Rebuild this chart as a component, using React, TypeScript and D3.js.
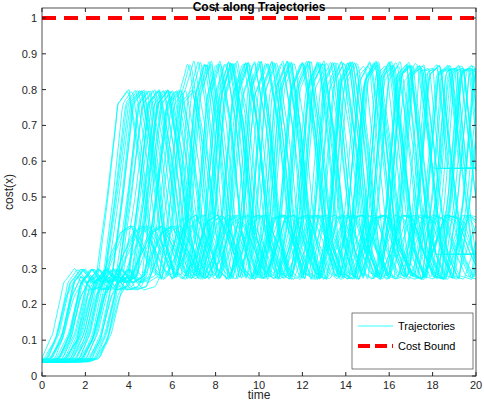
import React from "react";
import * as d3 from "d3";

const highProfile = [0.04,0.05,0.12,0.26,0.3,0.26,0.28,0.5,0.76,0.8,0.62,0.38,0.27,0.42,0.78,0.88,0.7,0.4,0.27,0.42,0.8,0.88,0.68,0.38,0.27,0.45,0.82,0.88,0.65,0.36,0.27,0.48,0.84,0.87,0.6,0.34,0.27,0.5,0.85,0.86,0.58];
const lowProfile = [0.04,0.05,0.1,0.22,0.28,0.24,0.25,0.33,0.4,0.42,0.36,0.3,0.27,0.33,0.43,0.45,0.38,0.3,0.27,0.34,0.44,0.45,0.37,0.29,0.27,0.35,0.44,0.45,0.36,0.29,0.27,0.36,0.45,0.44,0.35,0.28,0.27,0.37,0.45,0.43,0.34];
const highShifts = [-0.5,-0.35,-0.2,-0.1,0,0.1,0.15,0.25,0.3,0.4,0.5,0.55,0.65,0.7,0.8,0.9,0.95,1.05,1.1,1.2,1.3,1.35,1.45,1.5,1.6,1.7,1.75,1.85,1.9,2.0,2.1,2.2,-0.25,0.35,0.85,1.4];
const highRates = [1.0,0.92,1.08,0.96,1.04,0.88,1.12,0.95,1.02,0.9,1.1,0.98,0.86,1.06,0.94,1.14,1.0,0.9,1.05,0.97,1.11,0.89,1.03,0.93,1.07,0.99,0.87,1.09,0.95,1.01,0.91,1.13,0.96,1.04,0.92,1.06];
const lowShifts = [-0.4,-0.2,0,0.2,0.35,0.5,0.7,0.9,1.05,1.2,1.4,1.6,1.75,1.9,2.1,0.6,1.3,-0.1];
const lowRates = [1.0,0.9,1.1,0.95,1.05,0.88,1.12,0.97,1.03,0.92,1.08,0.94,1.06,0.9,1.1,1.0,0.96,1.04];
const xTicks = d3.range(0, 21, 2);
const yTicks = d3.range(0, 1.001, 0.1);
const costBound = 1;

export default function App() {
  const W = 484, H = 401;
  const m = { l: 42, r: 8, t: 8, b: 25 };
  const x = d3.scaleLinear().domain([0, 20]).range([m.l, W - m.r]);
  const y = d3.scaleLinear().domain([0, 1.028]).range([H - m.b, m.t]);
  const interp = (prof: number[], t: number) => {
    if (t <= 0) return prof[0];
    const i = t / 0.5;
    const i0 = Math.min(Math.floor(i), prof.length - 1);
    const i1 = Math.min(i0 + 1, prof.length - 1);
    const f = Math.min(i - i0, 1);
    return prof[i0] * (1 - f) + prof[i1] * f;
  };
  const line = d3.line<[number, number]>().x(d => x(d[0])).y(d => y(d[1])).curve(d3.curveMonotoneX);
  const fine = d3.range(0, 20.001, 0.1);
  const paths: string[] = [];
  highShifts.forEach((s, k) => paths.push(line(fine.map(t => [t, interp(highProfile, (t - s) * highRates[k])] as [number, number]))!));
  lowShifts.forEach((s, k) => paths.push(line(fine.map(t => [t, interp(lowProfile, (t - s) * lowRates[k])] as [number, number]))!));
  return (
    <svg width={W} height={H} style={{ position: "absolute", left: 0, top: 0, fontFamily: "Helvetica, Arial, 'Liberation Sans', sans-serif" }}>
      <rect width={W} height={H} fill="#fff" />
      <defs><clipPath id="c"><rect x={m.l} y={m.t} width={W - m.l - m.r} height={H - m.t - m.b} /></clipPath></defs>
      <g clipPath="url(#c)">
        {paths.map((p, i) => <path key={i} d={p} fill="none" stroke="#00ffff" strokeWidth={0.8} />)}
        <line x1={x(0)} x2={x(20)} y1={y(costBound)} y2={y(costBound)} stroke="#ff0000" strokeWidth={4} strokeDasharray="14,8" />
      </g>
      <rect x={m.l} y={m.t} width={W - m.l - m.r} height={H - m.t - m.b} fill="none" stroke="#262626" strokeWidth={0.8} />
      {xTicks.map(t => <g key={t}>
        <line x1={x(t)} x2={x(t)} y1={H - m.b} y2={H - m.b - 4} stroke="#262626" />
        <line x1={x(t)} x2={x(t)} y1={m.t} y2={m.t + 4} stroke="#262626" />
        <text x={x(t)} y={H - m.b + 13} textAnchor="middle" fontSize={11} fill="#262626">{t}</text>
      </g>)}
      {yTicks.map(t => <g key={t}>
        <line x1={m.l} x2={m.l + 4} y1={y(t)} y2={y(t)} stroke="#262626" />
        <line x1={W - m.r} x2={W - m.r - 4} y1={y(t)} y2={y(t)} stroke="#262626" />
        <text x={m.l - 5} y={y(t) + 4} textAnchor="end" fontSize={11} fill="#262626">{t === 0 ? "0" : t === 1 ? "1" : d3.format(".1f")(t)}</text>
      </g>)}
      <text x={(m.l + W - m.r) / 2} y={399} textAnchor="middle" fontSize={12} fill="#262626">time</text>
      <text transform={`translate(13,${(m.t + H - m.b) / 2}) rotate(-90)`} textAnchor="middle" fontSize={12} fill="#262626">cost(x)</text>
      <text x={(m.l + W - m.r) / 2} y={11} textAnchor="middle" fontSize={12} fontWeight="bold" fill="#000">Cost along Trajectories</text>
      <rect x={352} y={313} width={121} height={56} fill="#fff" stroke="#262626" strokeWidth={0.6} />
      <line x1={358} x2={393} y1={326} y2={326} stroke="#00ffff" strokeWidth={0.8} />
      <text x={398} y={330} fontSize={11} fill="#000">Trajectories</text>
      <line x1={358} x2={393} y1={346} y2={346} stroke="#ff0000" strokeWidth={4} strokeDasharray="12,5" />
      <text x={398} y={350} fontSize={11} fill="#000">Cost Bound</text>
    </svg>
  );
}
